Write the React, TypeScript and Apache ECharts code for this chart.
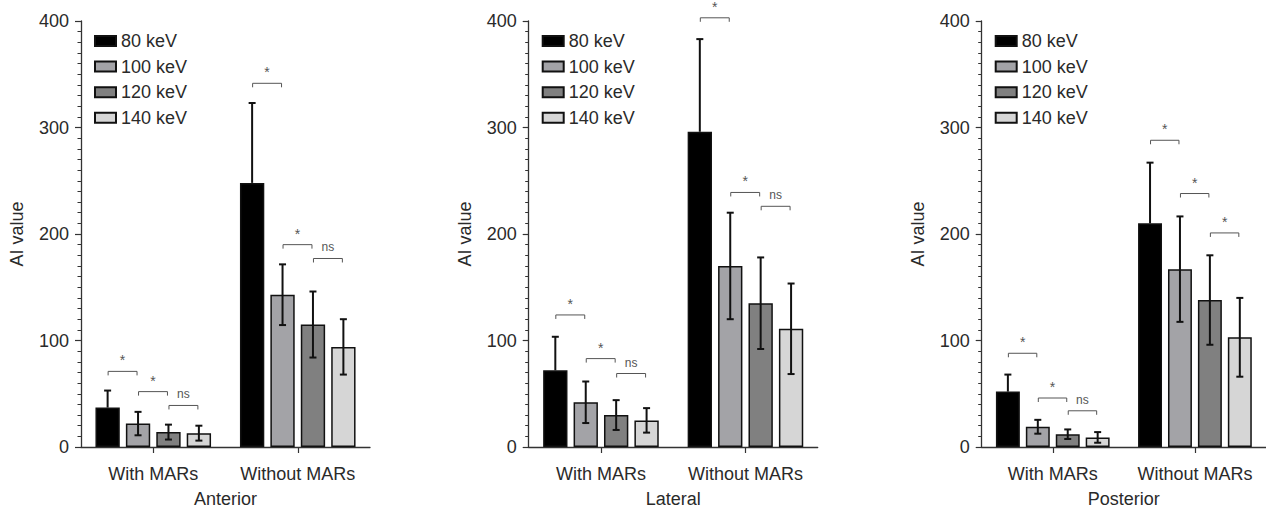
import React, { useEffect, useRef } from "react";
import * as echarts from "echarts";

const categories = ["With MARs", "Without MARs"];
const energies = ["80 keV", "100 keV", "120 keV", "140 keV"];
const panelNames = ["Anterior", "Lateral", "Posterior"];
const yTicks = [0, 100, 200, 300, 400];

// means per energy: [With MARs, Without MARs]
const anteriorMeans = [[37, 248], [22, 143], [14, 115], [13, 94]];
const anteriorSD = [[16, 75], [11, 28.5], [7, 31], [7, 26]];
const lateralMeans = [[72, 296], [42, 170], [30, 135], [25, 111]];
const lateralSD = [[31.5, 87], [19.5, 50], [14, 43], [11.5, 42.5]];
const posteriorMeans = [[52, 210], [19, 167], [12, 138], [9, 103]];
const posteriorSD = [[16, 57], [6.5, 49.5], [4.5, 42], [5, 37]];

// brackets: [category index, left bar index, y value, label]
const anteriorBrackets = [[0, 0, 71, "*"], [0, 1, 52, "*"], [0, 2, 39, "ns"], [1, 0, 341.5, "*"], [1, 1, 190, "*"], [1, 2, 177, "ns"]];
const lateralBrackets = [[0, 0, 124, "*"], [0, 1, 83, "*"], [0, 2, 69, "ns"], [1, 0, 403, "*"], [1, 1, 239, "*"], [1, 2, 226, "ns"]];
const posteriorBrackets = [[0, 0, 88, "*"], [0, 1, 46, "*"], [0, 2, 34, "ns"], [1, 0, 288, "*"], [1, 1, 238, "*"], [1, 2, 201, "*"]];

const barColors = ["#000000", "#a3a3a7", "#808080", "#d6d6d6"];

const FONT = "'Liberation Sans', Arial, Helvetica, sans-serif";
const gridLefts = [81, 528.7, 981.7];
const GRID_TOP = 21;
const GRID_W = 289;
const GRID_H = 431;
const CAT_GAP = 0.2;
const BAR_GAP = 0.25;

function barCenterX(api: any, cat: number, idx: number, val: number) {
  const c = api.coord([cat, val]);
  const band = api.size([1, 0])[0];
  const used = band * (1 - CAT_GAP);
  const n = energies.length;
  const w = used / (n + (n - 1) * BAR_GAP);
  const g = w * BAR_GAP;
  return c[0] - used / 2 + idx * (w + g) + w / 2;
}

export default function App() {
  const ref = useRef<HTMLDivElement>(null);
  useEffect(() => {
    if (!ref.current) return;
    const chart = echarts.init(ref.current, null, { renderer: "svg" });
    const allMeans = [anteriorMeans, lateralMeans, posteriorMeans];
    const allSD = [anteriorSD, lateralSD, posteriorSD];
    const allBrackets = [anteriorBrackets, lateralBrackets, posteriorBrackets];

    const grids: any[] = [];
    const xAxes: any[] = [];
    const yAxes: any[] = [];
    const legends: any[] = [];
    const series: any[] = [];

    panelNames.forEach((pn, k) => {
      grids.push({ left: gridLefts[k], top: GRID_TOP, width: GRID_W, height: GRID_H, containLabel: false });
      xAxes.push({
        type: "category",
        gridIndex: k,
        data: categories,
        name: pn,
        nameLocation: "middle",
        nameGap: 43,
        nameTextStyle: { fontSize: 18, color: "#2a2a2a", fontFamily: FONT },
        axisLine: { lineStyle: { color: "#333", width: 1.3 } },
        axisTick: { show: true, interval: 0, alignWithLabel: true, length: 6, lineStyle: { color: "#333", width: 1.2 } },
        axisLabel: { interval: 0, fontSize: 18, color: "#2a2a2a", margin: 18, fontFamily: FONT },
      });
      yAxes.push({
        type: "value",
        gridIndex: k,
        min: yTicks[0],
        max: yTicks[yTicks.length - 1],
        interval: yTicks[1] - yTicks[0],
        name: "AI value",
        nameLocation: "middle",
        nameGap: 55,
        nameTextStyle: { fontSize: 18, color: "#2a2a2a", fontFamily: FONT },
        axisLine: { show: true, lineStyle: { color: "#333", width: 1.3 } },
        axisTick: { show: true, length: 6, lineStyle: { color: "#333", width: 1.2 } },
        minorTick: { show: true, splitNumber: 10, length: 3.5, lineStyle: { color: "#333", width: 1 } },
        splitLine: { show: false },
        axisLabel: { fontSize: 18, color: "#2a2a2a", margin: 12, fontFamily: FONT },
      });
      legends.push({
        orient: "vertical",
        left: gridLefts[k] + 13,
        top: 32,
        padding: 0,
        icon: "rect",
        itemWidth: 21,
        itemHeight: 10,
        itemGap: 7.6,
        data: energies,
        textStyle: { fontSize: 18, color: "#2a2a2a", fontFamily: FONT, lineHeight: 18 },
        selectedMode: false,
      });
      energies.forEach((en, i) => {
        series.push({
          type: "bar",
          name: en,
          xAxisIndex: k,
          yAxisIndex: k,
          data: allMeans[k][i],
          barGap: BAR_GAP * 100 + "%",
          barCategoryGap: CAT_GAP * 100 + "%",
          itemStyle: { color: barColors[i], borderColor: "#111", borderWidth: 1.5 },
          z: 2,
        });
      });
      const errData: any[] = [];
      energies.forEach((en, i) => {
        categories.forEach((c, ci) => {
          errData.push([ci, i, allMeans[k][i][ci], allSD[k][i][ci]]);
        });
      });
      series.push({
        type: "custom",
        xAxisIndex: k,
        yAxisIndex: k,
        data: errData,
        encode: { x: 0, y: 2 },
        z: 5,
        silent: true,
        renderItem: (params: any, api: any) => {
          const cat = api.value(0);
          const idx = api.value(1);
          const m = api.value(2);
          const sd = api.value(3);
          const x = barCenterX(api, cat, idx, m);
          const yT = api.coord([cat, m + sd])[1];
          const yM = api.coord([cat, m])[1];
          const yB = api.coord([cat, m - sd])[1];
          const cw = 3.5;
          const st = { stroke: "#111", lineWidth: 2, fill: null };
          const children: any[] = [
            { type: "line", shape: { x1: x, y1: yT, x2: x, y2: idx === 0 ? yM : yB }, style: st },
            { type: "line", shape: { x1: x - cw, y1: yT, x2: x + cw, y2: yT }, style: st },
          ];
          if (idx !== 0) {
            children.push({ type: "line", shape: { x1: x - cw, y1: yB, x2: x + cw, y2: yB }, style: st });
          }
          return { type: "group", children };
        },
      });
      series.push({
        type: "custom",
        xAxisIndex: k,
        yAxisIndex: k,
        data: allBrackets[k],
        encode: { x: 0, y: 2 },
        dimensions: ["cat", "left", "y", "label"],
        z: 6,
        silent: true,
        clip: false,
        renderItem: (params: any, api: any) => {
          const item = allBrackets[k][params.dataIndex];
          const cat = item[0] as number;
          const left = item[1] as number;
          const yv = item[2] as number;
          const label = item[3] as string;
          const x1 = barCenterX(api, cat, left, yv) + 0.5;
          const x2 = barCenterX(api, cat, left + 1, yv) - 1;
          const y = api.coord([cat, yv])[1];
          const st = { stroke: "#555", lineWidth: 1, fill: null };
          const isStar = label === "*";
          return {
            type: "group",
            children: [
              { type: "polyline", shape: { points: [[x1, y + 4], [x1, y], [x2, y], [x2, y + 4]] }, style: st },
              {
                type: "text",
                x: (x1 + x2) / 2,
                y: isStar ? y - 11 : y - 11,
                style: {
                  text: label,
                  fill: "#555555",
                  stroke: "none",
                  fontSize: isStar ? 14 : 12,
                  fontFamily: FONT,
                  align: "center",
                  verticalAlign: "middle",
                },
              },
            ],
          };
        },
      });
    });

    chart.setOption({
      animation: false,
      backgroundColor: "#ffffff",
      textStyle: { fontFamily: FONT },
      grid: grids,
      xAxis: xAxes,
      yAxis: yAxes,
      legend: legends,
      series,
    });
    return () => chart.dispose();
  }, []);
  return <div ref={ref} style={{ position: "absolute", left: 0, top: 0, width: 1266, height: 513 }} />;
}
